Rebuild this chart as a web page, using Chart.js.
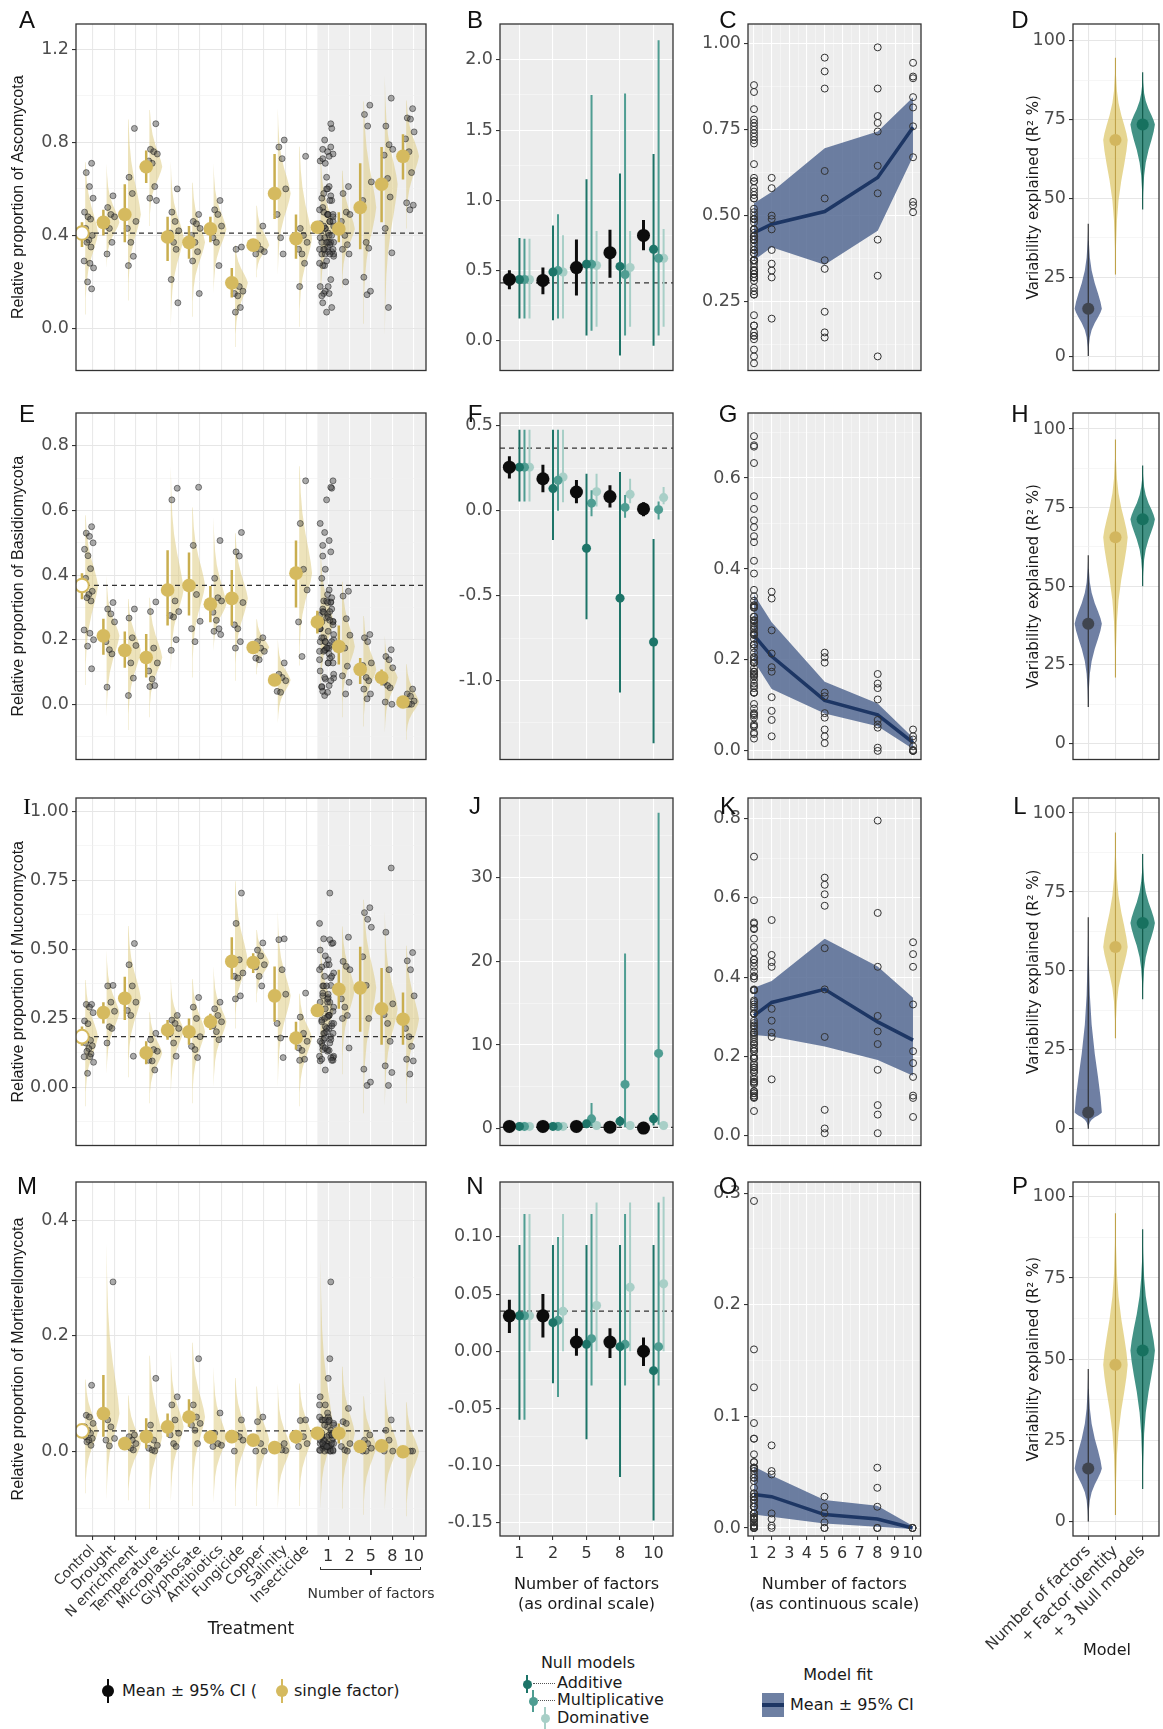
<!DOCTYPE html>
<html>
<head>
<meta charset="utf-8">
<script src="https://cdn.jsdelivr.net/npm/chart.js@4.4.1/dist/chart.umd.min.js"></script>
<style>
    body { margin: 0; background: #fff; }
    #fig { position: relative; width: 1163px; height: 1729px; overflow: hidden; background: #fff; }
    #fig canvas { position: absolute; }
    .t { position: absolute; white-space: nowrap; line-height: 1; }
</style>
</head>
<body>
<div id="fig"></div>
<script>
// ---------- labels ----------
const treatments = ['Control', 'Drought', 'N enrichment', 'Temperature', 'Microplastic', 'Glyphosate',
    'Antibiotics', 'Fungicide', 'Copper', 'Salinity', 'Insecticide'];
const factorLevels = ['1', '2', '5', '8', '10'];
const factorNums = [1, 2, 5, 8, 10];
const modelLabels = ['Number of factors', '+ Factor identity', '+ 3 Null models'];

// ---------- Ascomycota ----------
const ascoMean = [0.41, 0.456, 0.49, 0.695, 0.393, 0.37, 0.428, 0.196, 0.358, 0.58, 0.386, 0.435, 0.428, 0.52, 0.62, 0.74];
const ascoLo = [0.35, 0.40, 0.37, 0.625, 0.29, 0.30, 0.37, 0.133, 0.337, 0.47, 0.30, 0.41, 0.37, 0.34, 0.456, 0.64];
const ascoHi = [0.456, 0.51, 0.62, 0.765, 0.48, 0.44, 0.48, 0.26, 0.379, 0.75, 0.49, 0.456, 0.50, 0.71, 0.78, 0.835];
const ascoVioLo = [0.06, 0.26, 0.12, 0.44, 0.007, 0.05, 0.15, -0.08, 0.22, 0.23, 0.007, 0.12, 0.175, 0.02, -0.035, 0.43];
const ascoVioHi = [0.79, 0.71, 1.0, 1.0, 0.72, 0.69, 0.71, 0.40, 0.57, 0.95, 0.88, 0.78, 0.74, 1.09, 1.09, 1.04];
const ascoTreatPts = [
    [0.71, 0.67, 0.61, 0.56, 0.50, 0.48, 0.47, 0.43, 0.40, 0.38, 0.37, 0.35, 0.29, 0.28, 0.26, 0.20, 0.17],
    [0.57, 0.52, 0.49, 0.48, 0.44, 0.43, 0.37, 0.32],
    [0.86, 0.65, 0.58, 0.46, 0.43, 0.37, 0.31, 0.27],
    [0.88, 0.77, 0.76, 0.75, 0.72, 0.71, 0.61, 0.56, 0.55],
    [0.60, 0.50, 0.46, 0.42, 0.41, 0.37, 0.34, 0.21, 0.11],
    [0.49, 0.46, 0.45, 0.43, 0.40, 0.37, 0.33, 0.29, 0.15],
    [0.55, 0.51, 0.49, 0.44, 0.39, 0.37, 0.27],
    [0.35, 0.34, 0.18, 0.16, 0.15, 0.14, 0.09, 0.07],
    [0.44, 0.36, 0.34, 0.33, 0.32],
    [0.81, 0.78, 0.73, 0.60, 0.49, 0.39, 0.32],
    [0.74, 0.43, 0.40, 0.37, 0.34, 0.32, 0.28, 0.18],
];
const ascoFactorPts = [
    [0.61, 0.58, 0.50, 0.49, 0.46, 0.40, 0.36, 0.34, 0.32, 0.20],
    [0.96, 0.92, 0.87, 0.63, 0.55, 0.37, 0.345, 0.22, 0.16, 0.145],
    [0.99, 0.87, 0.79, 0.77, 0.745, 0.645, 0.565, 0.43, 0.325, 0.09],
    [0.945, 0.905, 0.90, 0.845, 0.815, 0.76, 0.67, 0.54, 0.53, 0.51],
];
// null models: [mean, lo, hi] per level 1,2,5,8,10
const ascoObs = [[0.435, 0.428, 0.52, 0.626, 0.749], [0.365, 0.33, 0.32, 0.447, 0.644], [0.50, 0.52, 0.72, 0.79, 0.858]];
const ascoAdd = [[0.435, 0.488, 0.544, 0.528, 0.65], [0.156, 0.144, 0.035, -0.107, -0.037], [0.73, 0.82, 1.15, 1.19, 1.33]];
const ascoMul = [[0.435, 0.498, 0.544, 0.47, 0.586], [0.156, 0.156, 0.07, 0.035, 0.035], [0.725, 0.90, 1.75, 1.76, 2.14]];
const ascoDom = [[0.435, 0.488, 0.535, 0.52, 0.586], [0.156, 0.156, 0.098, 0.098, 0.098], [0.725, 0.75, 0.78, 0.78, 0.795]];
const ascoFitMean = [0.45, 0.475, 0.512, 0.611, 0.757];
const ascoFitLo = [0.37, 0.408, 0.357, 0.456, 0.672];
const ascoFitHi = [0.536, 0.569, 0.696, 0.745, 0.845];
const ascoR2Med = [15, 68.5, 73.4];
const ascoR2Lo = [0, 25.9, 46.5];
const ascoR2Hi = [42, 94.6, 90];

// ---------- Basidiomycota ----------
const basiMean = [0.368, 0.212, 0.167, 0.145, 0.354, 0.368, 0.31, 0.328, 0.176, 0.075, 0.406, 0.255, 0.179, 0.108, 0.083, 0.007];
const basiLo = [0.325, 0.153, 0.113, 0.083, 0.244, 0.275, 0.254, 0.244, 0.164, 0.058, 0.30, 0.219, 0.123, 0.063, 0.058, -0.003];
const basiHi = [0.406, 0.265, 0.225, 0.218, 0.477, 0.47, 0.366, 0.416, 0.188, 0.093, 0.507, 0.29, 0.244, 0.143, 0.108, 0.017];
const basiVioLo = [0.06, -0.04, -0.08, -0.04, 0.10, 0.083, 0.164, 0.073, 0.093, -0.059, 0.12, 0.03, -0.04, -0.069, -0.089, -0.11];
const basiVioHi = [0.64, 0.40, 0.366, 0.376, 0.74, 0.67, 0.58, 0.58, 0.285, 0.204, 0.82, 0.5, 0.43, 0.315, 0.214, 0.153];
const basiTreatPts = [
    [0.55, 0.53, 0.52, 0.50, 0.48, 0.46, 0.42, 0.39, 0.35, 0.34, 0.33, 0.32, 0.23, 0.22, 0.20, 0.18, 0.11],
    [0.315, 0.295, 0.28, 0.255, 0.194, 0.169, 0.156, 0.053],
    [0.295, 0.267, 0.206, 0.182, 0.164, 0.128, 0.081, 0.027],
    [0.317, 0.287, 0.174, 0.128, 0.103, 0.078, 0.058, 0.055],
    [0.669, 0.633, 0.32, 0.287, 0.275, 0.27, 0.2, 0.167],
    [0.672, 0.492, 0.34, 0.257, 0.234, 0.194],
    [0.507, 0.39, 0.33, 0.32, 0.285, 0.26, 0.234, 0.226, 0.216],
    [0.532, 0.472, 0.459, 0.315, 0.246, 0.234, 0.194, 0.174],
    [0.206, 0.194, 0.174, 0.164, 0.143, 0.138],
    [0.128, 0.093, 0.083, 0.073, 0.04, 0.037],
    [0.692, 0.56, 0.418, 0.354, 0.255, 0.148],
];
const basiFactorPts = [
    [0.35, 0.335, 0.265, 0.214, 0.184, 0.174, 0.118, 0.088, 0.068, 0.032],
    [0.216, 0.206, 0.194, 0.128, 0.12, 0.083, 0.073, 0.047, 0.032, 0.017],
    [0.169, 0.148, 0.138, 0.113, 0.068, 0.058, 0.051, 0.007, 0.0],
    [0.047, 0.032, 0.025, 0.01, 0.002, 0.0, 0.0, 0.0],
];
const basiObs = [[0.256, 0.188, 0.11, 0.083, 0.01], [0.19, 0.108, 0.044, 0.019, -0.033], [0.32, 0.27, 0.18, 0.15, 0.05]];
const basiAdd = [[0.256, 0.13, -0.221, -0.515, -0.773], [0.054, -0.173, -0.64, -1.07, -1.37], [0.477, 0.477, 0.217, 0.227, -0.167]];
const basiMul = [[0.256, 0.179, 0.044, 0.019, 0.006], [0.054, 0.0, -0.033, -0.042, -0.052], [0.477, 0.477, 0.12, 0.092, 0.054]];
const basiDom = [[0.256, 0.198, 0.112, 0.096, 0.077], [0.054, 0.05, 0.025, 0.044, 0.038], [0.477, 0.477, 0.217, 0.188, 0.14]];
const basiFitMean = [0.254, 0.208, 0.111, 0.079, 0.018];
const basiFitLo = [0.197, 0.136, 0.082, 0.054, 0.004];
const basiFitHi = [0.344, 0.283, 0.152, 0.104, 0.029];
const basiR2Med = [38.1, 65.6, 71.3];
const basiR2Lo = [11.6, 21, 50];
const basiR2Hi = [59.9, 96.7, 88.4];

// ---------- Mucoromycota ----------
const mucoMean = [0.183, 0.27, 0.322, 0.124, 0.207, 0.201, 0.237, 0.456, 0.452, 0.331, 0.178, 0.278, 0.355, 0.36, 0.284, 0.246];
const mucoLo = [0.15, 0.231, 0.243, 0.083, 0.172, 0.154, 0.207, 0.39, 0.414, 0.237, 0.136, 0.254, 0.284, 0.201, 0.154, 0.154];
const mucoHi = [0.22, 0.308, 0.40, 0.166, 0.243, 0.249, 0.266, 0.544, 0.486, 0.438, 0.237, 0.302, 0.426, 0.509, 0.432, 0.343];
const mucoVioLo = [-0.07, 0.047, 0.036, -0.059, -0.024, -0.059, 0.0, 0.213, 0.308, 0.0, -0.07, 0.05, 0.047, -0.095, -0.07, -0.059];
const mucoVioHi = [0.44, 0.497, 0.65, 0.308, 0.40, 0.44, 0.44, 0.82, 0.60, 0.64, 0.379, 0.55, 0.64, 0.76, 0.64, 0.58];
const mucoTreatPts = [
    [0.30, 0.30, 0.29, 0.27, 0.24, 0.23, 0.17, 0.16, 0.15, 0.14, 0.13, 0.12, 0.11, 0.11, 0.09, 0.05],
    [0.369, 0.367, 0.308, 0.275, 0.27, 0.219, 0.213, 0.16],
    [0.521, 0.444, 0.367, 0.308, 0.278, 0.26, 0.112],
    [0.195, 0.172, 0.136, 0.13, 0.097, 0.095, 0.062],
    [0.26, 0.243, 0.231, 0.213, 0.195, 0.16, 0.112],
    [0.325, 0.29, 0.249, 0.183, 0.148, 0.136, 0.107],
    [0.308, 0.284, 0.26, 0.237, 0.222, 0.201, 0.172],
    [0.704, 0.594, 0.462, 0.414, 0.402, 0.396, 0.331, 0.32],
    [0.523, 0.497, 0.476, 0.444, 0.436, 0.402, 0.367],
    [0.538, 0.535, 0.426, 0.337, 0.231, 0.178, 0.107],
    [0.341, 0.254, 0.195, 0.166, 0.142, 0.133, 0.101, 0.097],
];
const mucoFactorPts = [
    [0.544, 0.456, 0.438, 0.426, 0.32, 0.29, 0.26, 0.249, 0.142],
    [0.651, 0.633, 0.609, 0.58, 0.473, 0.369, 0.249, 0.065, 0.018, 0.006],
    [0.795, 0.562, 0.426, 0.302, 0.263, 0.231, 0.166, 0.077, 0.053, 0.006],
    [0.488, 0.458, 0.426, 0.331, 0.213, 0.183, 0.148, 0.101, 0.095, 0.047],
];
const mucoObs = [[0.3, 0.3, 0.3, 0.2, 0.1], [0.1, 0.1, 0.1, 0.0, -0.1], [0.5, 0.5, 0.5, 0.4, 0.3]];
const mucoAdd = [[0.3, 0.3, 0.6, 0.9, 1.2], [0.1, 0.1, 0.2, 0.3, 0.4], [0.5, 0.5, 0.9, 1.5, 1.9]];
const mucoMul = [[0.3, 0.3, 1.2, 5.3, 9.0], [0.1, 0.1, 0.3, 0.2, 0.5], [0.5, 0.5, 3.1, 20.9, 37.7]];
const mucoDom = [[0.3, 0.3, 0.4, 0.4, 0.4], [0.1, 0.1, 0.2, 0.2, 0.2], [0.5, 0.5, 0.6, 0.6, 0.6]];
const mucoFitMean = [0.303, 0.336, 0.369, 0.287, 0.241];
const mucoFitLo = [0.254, 0.25, 0.225, 0.191, 0.151];
const mucoFitHi = [0.373, 0.39, 0.497, 0.427, 0.348];
const mucoR2Med = [5.2, 57.6, 65.2];
const mucoR2Lo = [0, 28.7, 41];
const mucoR2Hi = [67, 93.8, 87];

// ---------- Mortierellomycota ----------
const mortMean = [0.035, 0.065, 0.013, 0.025, 0.042, 0.059, 0.024, 0.025, 0.019, 0.006, 0.025, 0.031, 0.031, 0.008, 0.009, -0.001];
const mortLo = [0.025, 0.025, 0.005, 0.005, 0.025, 0.042, 0.013, 0.016, 0.01, 0.002, 0.013, 0.025, 0.013, 0.002, 0.003, -0.005];
const mortHi = [0.045, 0.132, 0.022, 0.057, 0.065, 0.09, 0.036, 0.034, 0.028, 0.01, 0.036, 0.037, 0.048, 0.013, 0.015, 0.003];
const mortVioLo = [-0.073, -0.085, -0.085, -0.10, -0.09, -0.095, -0.09, -0.095, -0.095, -0.10, -0.095, -0.10, -0.10, -0.11, -0.102, -0.113];
const mortVioHi = [0.146, 0.36, 0.117, 0.20, 0.175, 0.22, 0.146, 0.152, 0.135, 0.117, 0.14, 0.33, 0.175, 0.117, 0.129, 0.106];
const mortTreatPts = [
    [0.114, 0.062, 0.059, 0.048, 0.042, 0.036, 0.031, 0.025, 0.022, 0.019, 0.016, 0.010],
    [0.293, 0.054, 0.042, 0.022, 0.019, 0.009],
    [0.028, 0.025, 0.019, 0.013, 0.008, 0.005, 0.002],
    [0.126, 0.045, 0.019, 0.01, 0.005, 0.002, 0.0],
    [0.094, 0.08, 0.054, 0.031, 0.028, 0.013, 0.008],
    [0.16, 0.08, 0.059, 0.048, 0.045, 0.036, 0.013],
    [0.066, 0.031, 0.013, 0.01, 0.008],
    [0.054, 0.028, 0.025, 0.019, 0.0],
    [0.059, 0.051, 0.013, 0.0, 0.0],
    [0.013, 0.008, 0.002, 0.001],
    [0.054, 0.053, 0.025, 0.013, 0.008],
];
const mortFactorPts = [
    [0.074, 0.051, 0.048, 0.013, 0.008, 0.002, 0.0],
    [0.028, 0.019, 0.013, 0.005, 0.0, 0.0],
    [0.054, 0.036, 0.019, 0.0, 0.0],
    [0.0, 0.0, 0.0],
];
const mortObs = [[0.031, 0.031, 0.008, 0.008, 0.0], [0.016, 0.012, -0.004, -0.006, -0.013], [0.045, 0.05, 0.02, 0.02, 0.012]];
const mortAdd = [[0.031, 0.025, 0.006, 0.004, -0.017], [-0.06, -0.028, -0.077, -0.11, -0.148], [0.093, 0.093, 0.093, 0.093, 0.093]];
const mortMul = [[0.031, 0.027, 0.011, 0.006, 0.004], [-0.06, -0.04, -0.03, -0.03, -0.03], [0.12, 0.1, 0.12, 0.12, 0.13]];
const mortDom = [[0.031, 0.035, 0.04, 0.056, 0.059], [0.0, 0.0, 0.0, 0.0, 0.0], [0.12, 0.12, 0.13, 0.13, 0.135]];
const mortFitMean = [0.030, 0.028, 0.012, 0.008, 0.0];
const mortFitLo = [0.012, 0.010, 0.004, 0.001, -0.001];
const mortFitHi = [0.055, 0.047, 0.025, 0.02, 0.002];
const mortR2Med = [16.3, 48.3, 52.7];
const mortR2Lo = [0, 2, 10];
const mortR2Hi = [47, 95, 90];

// ---------- styling ----------
const SANS = '"DejaVu Sans", sans-serif';
const ARIAL = '"Liberation Sans", Arial, sans-serif';
const YEL = '#d5ba5f';
const YEL_CI = '#c9ae4f';
const VIO = 'rgba(220,200,120,0.5)';
const ADD = '#1d7468';
const MUL = '#4f9d92';
const DOM = '#a8cfc7';
const BAND = 'rgba(74,96,140,0.8)';
const FIT = '#1d3664';
const PT_FILL = 'rgba(70,70,70,0.45)';
const PT_EDGE = 'rgba(20,20,20,0.6)';
const R2_FILL = ['rgba(75,95,140,0.8)', 'rgba(222,200,110,0.75)', 'rgba(26,122,106,0.82)'];
const R2_DOT = ['#40454f', '#d2b65e', '#17715f'];
const R2_LINE = ['#2a2a2a', '#bfa24a', '#0d5446'];

// jitter offsets used for the raw observations
const JIT = [-0.05, -0.3, -0.15, 0.02, -0.38, -0.22, -0.1, -0.33, -0.02, -0.18, -0.27, -0.08, -0.4, -0.13, 0.04, -0.24];
// violin outline template (fraction of way to the mode, relative width)
const VIO_T = [0, 0.2, 0.4, 0.55, 0.7, 0.82, 0.92, 1];
const VIO_W = [0, 0.04, 0.12, 0.25, 0.48, 0.72, 0.9, 1];

// panel geometry (plot area pixels)
const COLS = [
    { plotL: 76, plotR: 426, padL: 76, padR: 6 },
    { plotL: 500, plotR: 673, padL: 64, padR: 6 },
    { plotL: 748, plotR: 921, padL: 58, padR: 6 },
    { plotL: 1073, plotR: 1159, padL: 113, padR: 4 },
];
const ROWS = [{ top: 24, bot: 378 }, { top: 413, bot: 767 }, { top: 798, bot: 1153 }, { top: 1182, bot: 1536 }];

const X1 = { min: 0.22, max: 16.575 };
const X2 = { min: 0.42, max: 5.58 };
const X3 = { min: 0.66, max: 10.45 };
const X4 = { min: 0.44, max: 3.6 };

const fig = document.getElementById('fig');

function near(a, b) { return Math.abs(a - b) < 1e-7; }

function halfViolin(base, w, lo, mode, hi) {
    const pts = [];
    VIO_T.forEach((t, k) => pts.push({ x: base + w * VIO_W[k], y: lo + t * (mode - lo) }));
    for (let k = VIO_T.length - 2; k >= 0; k--) {
        pts.push({ x: base + w * VIO_W[k], y: hi - VIO_T[k] * (hi - mode) });
    }
    return pts;
}

function fullViolin(c, w, lo, mode, hi) {
    const right = halfViolin(c, w, lo, mode, hi);
    const pts = right.slice();
    for (let k = right.length - 1; k >= 0; k--) pts.push({ x: 2 * c - right[k].x, y: right[k].y });
    return pts;
}

function segments(xs, lo, hi) {
    const out = [];
    xs.forEach((x, i) => out.push({ x: x, y: lo[i] }, { x: x, y: hi[i] }, { x: x, y: null }));
    return out;
}

// ---------- dataset builders ----------
function treatmentSets(mean, lo, hi, vLo, vHi, treatPts, factorPts) {
    const pooled = [].concat(...treatPts.slice(1));
    const groups = treatPts.concat([pooled], factorPts);
    const pts = [];
    groups.forEach((g, i) => g.forEach((v, k) => {
        const j = JIT[k % JIT.length];
        pts.push({ x: i + 1 + (i === 11 ? j * 1.5 + 0.2 : j), y: v });
    }));
    const mx = mean.map((m, i) => i + 1 - 0.5);
    const sets = [
        {
            data: mean.map((m, i) => ({ x: mx[i], y: m })), showLine: false, pointRadius: 6.8,
            pointBackgroundColor: mean.map((m, i) => i === 0 ? '#ffffff' : YEL),
            pointBorderColor: YEL, pointBorderWidth: mean.map((m, i) => i === 0 ? 2 : 0.1),
        },
        { data: segments(mx, lo, hi), borderColor: YEL_CI, borderWidth: 2.5, pointRadius: 0 },
        { data: pts, showLine: false, pointRadius: 3, pointBackgroundColor: PT_FILL, pointBorderColor: PT_EDGE, pointBorderWidth: 0.8 },
        {
            data: [{ x: X1.min, y: mean[0] }, { x: X1.max, y: mean[0] }],
            borderColor: '#333', borderWidth: 1.2, borderDash: [5, 4], pointRadius: 0,
        },
    ];
    mean.forEach((m, i) => sets.push({
        data: halfViolin(i + 1 - 0.35, 0.6, vLo[i], m, vHi[i]),
        fill: 'shape', backgroundColor: VIO, borderWidth: 0, pointRadius: 0,
    }));
    return sets;
}

function nullSets(obs, add, mul, dom, ctrl) {
    const series = [[obs, -0.3, '#0c0c0c', 6.5, 3], [add, 0, ADD, 4.5, 2], [mul, 0.15, MUL, 4.5, 2], [dom, 0.3, DOM, 4.5, 2]];
    const sets = [];
    series.forEach(([s, off, col, r, lw]) => {
        const xs = s[0].map((v, i) => i + 1 + off);
        sets.push({ data: s[0].map((v, i) => ({ x: xs[i], y: v })), showLine: false, pointRadius: r, pointBackgroundColor: col, pointBorderColor: col, pointBorderWidth: 0.1 });
        sets.push({ data: segments(xs, s[1], s[2]), borderColor: col, borderWidth: lw, pointRadius: 0 });
    });
    sets.push({ data: [{ x: X2.min, y: ctrl }, { x: X2.max, y: ctrl }], borderColor: '#333', borderWidth: 1.2, borderDash: [5, 4], pointRadius: 0 });
    return sets;
}

function fitSets(fitMean, fitLo, fitHi, treatPts, factorPts) {
    const groups = [[].concat(...treatPts.slice(1))].concat(factorPts);
    const pts = [];
    groups.forEach((g, i) => g.forEach(v => pts.push({ x: factorNums[i], y: v })));
    return [
        { data: pts, showLine: false, pointRadius: 3.5, pointBackgroundColor: 'rgba(0,0,0,0)', pointBorderColor: '#333', pointBorderWidth: 1 },
        { data: factorNums.map((x, i) => ({ x: x, y: fitMean[i] })), borderColor: FIT, borderWidth: 3.5, pointRadius: 0 },
        { data: factorNums.map((x, i) => ({ x: x, y: fitHi[i] })), borderWidth: 0, pointRadius: 0, fill: '+1', backgroundColor: BAND },
        { data: factorNums.map((x, i) => ({ x: x, y: fitLo[i] })), borderWidth: 0, pointRadius: 0 },
    ];
}

function r2Sets(med, lo, hi) {
    const sets = [];
    med.forEach((m, i) => sets.push({ data: [{ x: i + 1, y: m }], showLine: false, pointRadius: 6, pointBackgroundColor: R2_DOT[i], pointBorderColor: R2_DOT[i], pointBorderWidth: 0.1 }));
    med.forEach((m, i) => sets.push({ data: [{ x: i + 1, y: lo[i] }, { x: i + 1, y: hi[i] }], borderColor: R2_LINE[i], borderWidth: 1.1, pointRadius: 0 }));
    med.forEach((m, i) => sets.push({ data: fullViolin(i + 1, i === 0 ? 0.5 : 0.45, lo[i], m, hi[i]), fill: 'shape', backgroundColor: R2_FILL[i], borderWidth: 0, pointRadius: 0 }));
    return sets;
}

// ---------- axes ----------
function makeAxis(o) {
    const all = o.majors.concat(o.minors || []).sort((a, b) => a - b);
    const isMaj = v => o.majors.some(m => near(m, v));
    return {
        type: 'linear', position: o.pos, min: o.min, max: o.max, bounds: 'data',
        afterBuildTicks: s => { s.ticks = all.map(v => ({ value: v })); },
        afterFit: s => { if (o.pos === 'left') s.width = o.size; else s.height = o.size; },
        ticks: {
            display: !!o.labels, autoSkip: false, padding: o.tickPad == null ? 3 : o.tickPad,
            color: o.tickColor || '#4d4d4d', font: o.font || { family: SANS, size: 17.5 },
            maxRotation: o.rot || 0, minRotation: o.rot || 0,
            callback: v => {
                if (!o.labels) return '';
                const k = o.majors.findIndex(m => near(m, v));
                return k >= 0 ? o.labels[k] : '';
            },
        },
        grid: {
            color: c => c.tick ? o.gridColor(c.tick.value, isMaj(c.tick.value)) : 'rgba(0,0,0,0)',
            lineWidth: c => (c.tick && isMaj(c.tick.value)) ? 1.1 : 0.6,
            drawTicks: !!o.ticksOn, tickLength: 4,
            tickColor: c => (c.tick && isMaj(c.tick.value)) ? '#333' : 'rgba(0,0,0,0)',
        },
        border: { display: false },
        title: o.title || { display: false },
    };
}

const panelBg = {
    id: 'panelBg',
    beforeDraw(chart, args, opts) {
        const { ctx, chartArea: a } = chart;
        ctx.save();
        ctx.fillStyle = opts.bg;
        ctx.fillRect(a.left, a.top, a.width, a.height);
        if (opts.shadeFrom != null) {
            const x0 = chart.scales.x.getPixelForValue(opts.shadeFrom);
            ctx.fillStyle = opts.shade;
            ctx.fillRect(x0, a.top, a.right - x0, a.height);
        }
        ctx.restore();
    },
    afterDraw(chart) {
        const { ctx, chartArea: a } = chart;
        ctx.save();
        ctx.strokeStyle = '#333';
        ctx.lineWidth = 1.3;
        ctx.strokeRect(a.left, a.top, a.width, a.height);
        ctx.restore();
    },
};

function makePanel(col, row, padB, xAx, yAx, datasets, bg) {
    const c = COLS[col], r = ROWS[row];
    const padT = 14;
    const left = c.plotL - c.padL, top = r.top - padT;
    const w = c.padL + (c.plotR - c.plotL) + c.padR;
    const h = padT + (r.bot - r.top) + padB;
    const cv = document.createElement('canvas');
    cv.width = w; cv.height = h;
    cv.style.left = left + 'px'; cv.style.top = top + 'px';
    cv.style.width = w + 'px'; cv.style.height = h + 'px';
    fig.appendChild(cv);
    const chart = new Chart(cv, {
        type: 'line',
        data: { datasets: datasets },
        options: {
            responsive: false, animation: false, events: [],
            layout: { padding: { left: 0, top: padT, right: c.padR, bottom: 0 }, autoPadding: false },
            elements: { line: { tension: 0 } },
            plugins: { legend: { display: false }, tooltip: { enabled: false }, panelBg: bg },
            scales: { x: xAx, y: yAx },
        },
        plugins: [panelBg],
    });
    chart.$left = left;
    chart.$top = top;
    return chart;
}

// ---------- text helpers ----------
function text(s, x, y, size, family, opts) {
    const o = opts || {};
    const d = document.createElement('div');
    d.className = 't';
    d.textContent = s;
    d.style.left = x + 'px';
    d.style.top = y + 'px';
    d.style.fontSize = size + 'px';
    d.style.fontFamily = family;
    d.style.color = o.color || '#1a1a1a';
    d.style.transform = 'translate(' + (o.ax == null ? -50 : o.ax) + '%, -50%)';
    fig.appendChild(d);
    return d;
}
function box(x, y, w, h, css) {
    const d = document.createElement('div');
    d.style.position = 'absolute';
    d.style.left = x + 'px'; d.style.top = y + 'px';
    d.style.width = w + 'px'; d.style.height = h + 'px';
    Object.assign(d.style, css);
    fig.appendChild(d);
    return d;
}
function dotKey(x, y, col, r, len, lw) {
    box(x - lw / 2, y - len / 2, lw, len, { background: col });
    box(x - r, y - r, 2 * r, 2 * r, { background: col, borderRadius: '50%' });
}

// ---------- build panels ----------
const phyla = [
    { name: 'Ascomycota', mean: ascoMean, lo: ascoLo, hi: ascoHi, vLo: ascoVioLo, vHi: ascoVioHi, tp: ascoTreatPts, fp: ascoFactorPts,
      obs: ascoObs, add: ascoAdd, mul: ascoMul, dom: ascoDom, fm: ascoFitMean, fl: ascoFitLo, fh: ascoFitHi, r2m: ascoR2Med, r2l: ascoR2Lo, r2h: ascoR2Hi,
      y1: { min: -0.181, max: 1.309, majors: [0, 0.4, 0.8, 1.2], labels: ['0.0', '0.4', '0.8', '1.2'], minors: [0.2, 0.6, 1.0] },
      y2: { min: -0.214, max: 2.256, majors: [0, 0.5, 1, 1.5, 2], labels: ['0.0', '0.5', '1.0', '1.5', '2.0'], minors: [0.25, 0.75, 1.25, 1.75] },
      y3: { min: 0.049, max: 1.058, majors: [0.25, 0.5, 0.75, 1.0], labels: ['0.25', '0.50', '0.75', '1.00'], minors: [0.125, 0.375, 0.625, 0.875] },
      y4: { min: -4.56, max: 105.3 } },
    { name: 'Basidiomycota', mean: basiMean, lo: basiLo, hi: basiHi, vLo: basiVioLo, vHi: basiVioHi, tp: basiTreatPts, fp: basiFactorPts,
      obs: basiObs, add: basiAdd, mul: basiMul, dom: basiDom, fm: basiFitMean, fl: basiFitLo, fh: basiFitHi, r2m: basiR2Med, r2l: basiR2Lo, r2h: basiR2Hi,
      y1: { min: -0.171, max: 0.902, majors: [0, 0.2, 0.4, 0.6, 0.8], labels: ['0.0', '0.2', '0.4', '0.6', '0.8'], minors: [-0.1, 0.1, 0.3, 0.5, 0.7] },
      y2: { min: -1.465, max: 0.575, majors: [-1, -0.5, 0, 0.5], labels: ['-1.0', '-0.5', '0.0', '0.5'], minors: [-1.25, -0.75, -0.25, 0.25] },
      y3: { min: -0.019, max: 0.743, majors: [0, 0.2, 0.4, 0.6], labels: ['0.0', '0.2', '0.4', '0.6'], minors: [0.1, 0.3, 0.5, 0.7] },
      y4: { min: -5.07, max: 105.1 } },
    { name: 'Mucoromycota', mean: mucoMean, lo: mucoLo, hi: mucoHi, vLo: mucoVioLo, vHi: mucoVioHi, tp: mucoTreatPts, fp: mucoFactorPts,
      obs: mucoObs, add: mucoAdd, mul: mucoMul, dom: mucoDom, fm: mucoFitMean, fl: mucoFitLo, fh: mucoFitHi, r2m: mucoR2Med, r2l: mucoR2Lo, r2h: mucoR2Hi,
      y1: { min: -0.212, max: 1.049, majors: [0, 0.25, 0.5, 0.75, 1.0], labels: ['0.00', '0.25', '0.50', '0.75', '1.00'], minors: [-0.125, 0.125, 0.375, 0.625, 0.875] },
      y2: { min: -1.98, max: 39.45, majors: [0, 10, 20, 30], labels: ['0', '10', '20', '30'], minors: [5, 15, 25, 35] },
      y3: { min: -0.025, max: 0.852, majors: [0, 0.2, 0.4, 0.6, 0.8], labels: ['0.0', '0.2', '0.4', '0.6', '0.8'], minors: [0.1, 0.3, 0.5, 0.7] },
      y4: { min: -5.27, max: 104.75 } },
    { name: 'Mortierellomycota', mean: mortMean, lo: mortLo, hi: mortHi, vLo: mortVioLo, vHi: mortVioHi, tp: mortTreatPts, fp: mortFactorPts,
      obs: mortObs, add: mortAdd, mul: mortMul, dom: mortDom, fm: mortFitMean, fl: mortFitLo, fh: mortFitHi, r2m: mortR2Med, r2l: mortR2Lo, r2h: mortR2Hi,
      y1: { min: -0.147, max: 0.466, majors: [0, 0.2, 0.4], labels: ['0.0', '0.2', '0.4'], minors: [-0.1, 0.1, 0.3] },
      y2: { min: -0.1616, max: 0.148, majors: [-0.15, -0.1, -0.05, 0, 0.05, 0.1], labels: ['-0.15', '-0.10', '-0.05', '0.00', '0.05', '0.10'], minors: [-0.125, -0.075, -0.025, 0.025, 0.075, 0.125] },
      y3: { min: -0.0072, max: 0.31, majors: [0, 0.1, 0.2, 0.3], labels: ['0.0', '0.1', '0.2', '0.3'], minors: [0.05, 0.15, 0.25] },
      y4: { min: -4.5, max: 104.6 } },
];

const greyGrid = (v, maj) => maj ? '#ffffff' : 'rgba(255,255,255,0.7)';
const lightGrid = (v, maj) => maj ? '#e6e6e6' : '#f0f0f0';
const tickFont = { family: SANS, size: 17.5 };
const factorFont = { family: SANS, size: 16 };
let chartM = null;

phyla.forEach((p, row) => {
    const last = row === 3;

    // column 1: treatments
    const x1 = makeAxis({
        pos: 'bottom', min: X1.min, max: X1.max, size: last ? 110 : 6,
        majors: treatments.map((t, i) => i + 1).concat([12, 13, 14, 15, 16]),
        labels: last ? treatments.concat(['', '', '', '', '']) : null,
        rot: 45, ticksOn: last, tickPad: 2, tickColor: '#333', font: { family: SANS, size: 14 },
        gridColor: (v, maj) => v >= 12 ? '#ffffff' : '#e9e9e9',
        title: last ? { display: true, text: 'Treatment', font: { family: SANS, size: 17 }, color: '#1a1a1a', padding: { top: 0, bottom: 6 } } : null,
    });
    const y1 = makeAxis(Object.assign({ pos: 'left', size: COLS[0].padL, ticksOn: true, font: tickFont, gridColor: lightGrid,
        title: { display: true, text: 'Relative proportion of ' + p.name, font: { family: ARIAL, size: 16 }, color: '#1a1a1a', padding: { top: 9, bottom: 0 } } }, p.y1));
    const ch1 = makePanel(0, row, last ? 110 : 6, x1, y1,
        treatmentSets(p.mean, p.lo, p.hi, p.vLo, p.vHi, p.tp, p.fp),
        { bg: '#ffffff', shadeFrom: 11.5, shade: '#efefef' });
    if (last) chartM = ch1;

    // column 2: null models
    const x2 = makeAxis({
        pos: 'bottom', min: X2.min, max: X2.max, size: last ? 85 : 6,
        majors: [1, 2, 3, 4, 5], labels: last ? factorLevels : null, ticksOn: last, tickPad: 4,
        tickColor: '#333', font: factorFont, gridColor: greyGrid,
        title: last ? { display: true, text: ['Number of factors', '(as ordinal scale)'], font: { family: SANS, size: 16, lineHeight: 1.25 }, color: '#1a1a1a', padding: { top: 0, bottom: 6 } } : null,
    });
    const y2 = makeAxis(Object.assign({ pos: 'left', size: COLS[1].padL, ticksOn: true, font: tickFont, gridColor: greyGrid }, p.y2));
    makePanel(1, row, last ? 85 : 6, x2, y2, nullSets(p.obs, p.add, p.mul, p.dom, p.mean[0]), { bg: '#ededed' });

    // column 3: model fit
    const x3 = makeAxis({
        pos: 'bottom', min: X3.min, max: X3.max, size: last ? 85 : 6,
        majors: [1, 2, 3, 4, 5, 6, 7, 8, 9, 10], minors: [1.5, 2.5, 3.5, 4.5, 5.5, 6.5, 7.5, 8.5, 9.5],
        labels: last ? ['1', '2', '3', '4', '5', '6', '7', '8', '9', '10'] : null, ticksOn: last, tickPad: 4,
        tickColor: '#333', font: factorFont, gridColor: greyGrid,
        title: last ? { display: true, text: ['Number of factors', '(as continuous scale)'], font: { family: SANS, size: 16, lineHeight: 1.25 }, color: '#1a1a1a', padding: { top: 0, bottom: 6 } } : null,
    });
    const y3 = makeAxis(Object.assign({ pos: 'left', size: COLS[2].padL, ticksOn: true, font: tickFont, gridColor: greyGrid }, p.y3));
    makePanel(2, row, last ? 85 : 6, x3, y3, fitSets(p.fm, p.fl, p.fh, p.tp, p.fp), { bg: '#ededed' });

    // column 4: variance explained
    const x4 = makeAxis({
        pos: 'bottom', min: X4.min, max: X4.max, size: last ? 130 : 6,
        majors: [1, 2, 3], labels: last ? modelLabels : null, rot: 45, ticksOn: last, tickPad: 2,
        tickColor: '#333', font: { family: SANS, size: 15.5 }, gridColor: lightGrid,
    });
    const y4 = makeAxis(Object.assign({
        pos: 'left', size: COLS[3].padL, ticksOn: true, font: tickFont, gridColor: lightGrid,
        majors: [0, 25, 50, 75, 100], labels: ['0', '25', '50', '75', '100'], minors: [12.5, 37.5, 62.5, 87.5],
        title: { display: true, text: 'Variability explained (R\u00b2 %)', font: { family: SANS, size: 15 }, color: '#1a1a1a', padding: { top: 65, bottom: 0 } },
    }, p.y4));
    makePanel(3, row, last ? 130 : 6, x4, y4, r2Sets(p.r2m, p.r2l, p.r2h), { bg: '#ffffff' });
});

// ---------- panel letters ----------
const letterRows = [20, 414, 806, 1186];
const letterCols = [27, 475, 728, 1020];
'ABCDEFGHIJKLMNOP'.split('').forEach((L, i) => {
    const r = Math.floor(i / 4), c = i % 4;
    text(L, letterCols[c], letterRows[r], 24, L === 'I' ? '"Liberation Serif", serif' : ARIAL, { color: '#111' });
});

// ---------- extra axis annotations under panel M ----------
factorLevels.forEach((lab, k) => {
    const x = chartM.scales.x.getPixelForValue(12 + k) + chartM.$left;
    text(lab, x, 1556, 16, SANS, { color: '#333' });
});
box(320, 1567, 101, 3, { borderLeft: '1.5px solid #333', borderRight: '1.5px solid #333', borderBottom: '1.5px solid #333', boxSizing: 'border-box' });
box(370, 1569, 1.5, 6, { background: '#333' });
text('Number of factors', 371, 1593, 14, SANS, { color: '#333' });

// model axis title
text('Model', 1107, 1650, 16, SANS);

// ---------- legends ----------
dotKey(108, 1691, '#0c0c0c', 6, 24, 2.5);
text('Mean \u00b1 95% CI (', 122, 1691, 16, SANS, { ax: 0 });
dotKey(282, 1691, YEL, 6, 24, 2.5);
text('single factor)', 294, 1691, 16, SANS, { ax: 0 });

text('Null models', 588, 1663, 16, SANS);
box(533, 1683, 22, 0, { borderTop: '1px dotted #555' });
box(538, 1700, 17, 0, { borderTop: '1px dotted #555' });
dotKey(527, 1684, ADD, 4.5, 18, 2);
dotKey(533, 1701, MUL, 4.5, 22, 2);
dotKey(545, 1718, DOM, 4.5, 22, 2);
text('Additive', 557, 1683, 16, SANS, { ax: 0 });
text('Multiplicative', 557, 1700, 16, SANS, { ax: 0 });
text('Dominative', 557, 1718, 16, SANS, { ax: 0 });

text('Model fit', 838, 1675, 16, SANS);
box(762, 1693, 22, 24, { background: BAND });
box(762, 1703, 22, 4, { background: FIT });
text('Mean \u00b1 95% CI', 790, 1705, 16, SANS, { ax: 0 });
</script>
</body>
</html>
